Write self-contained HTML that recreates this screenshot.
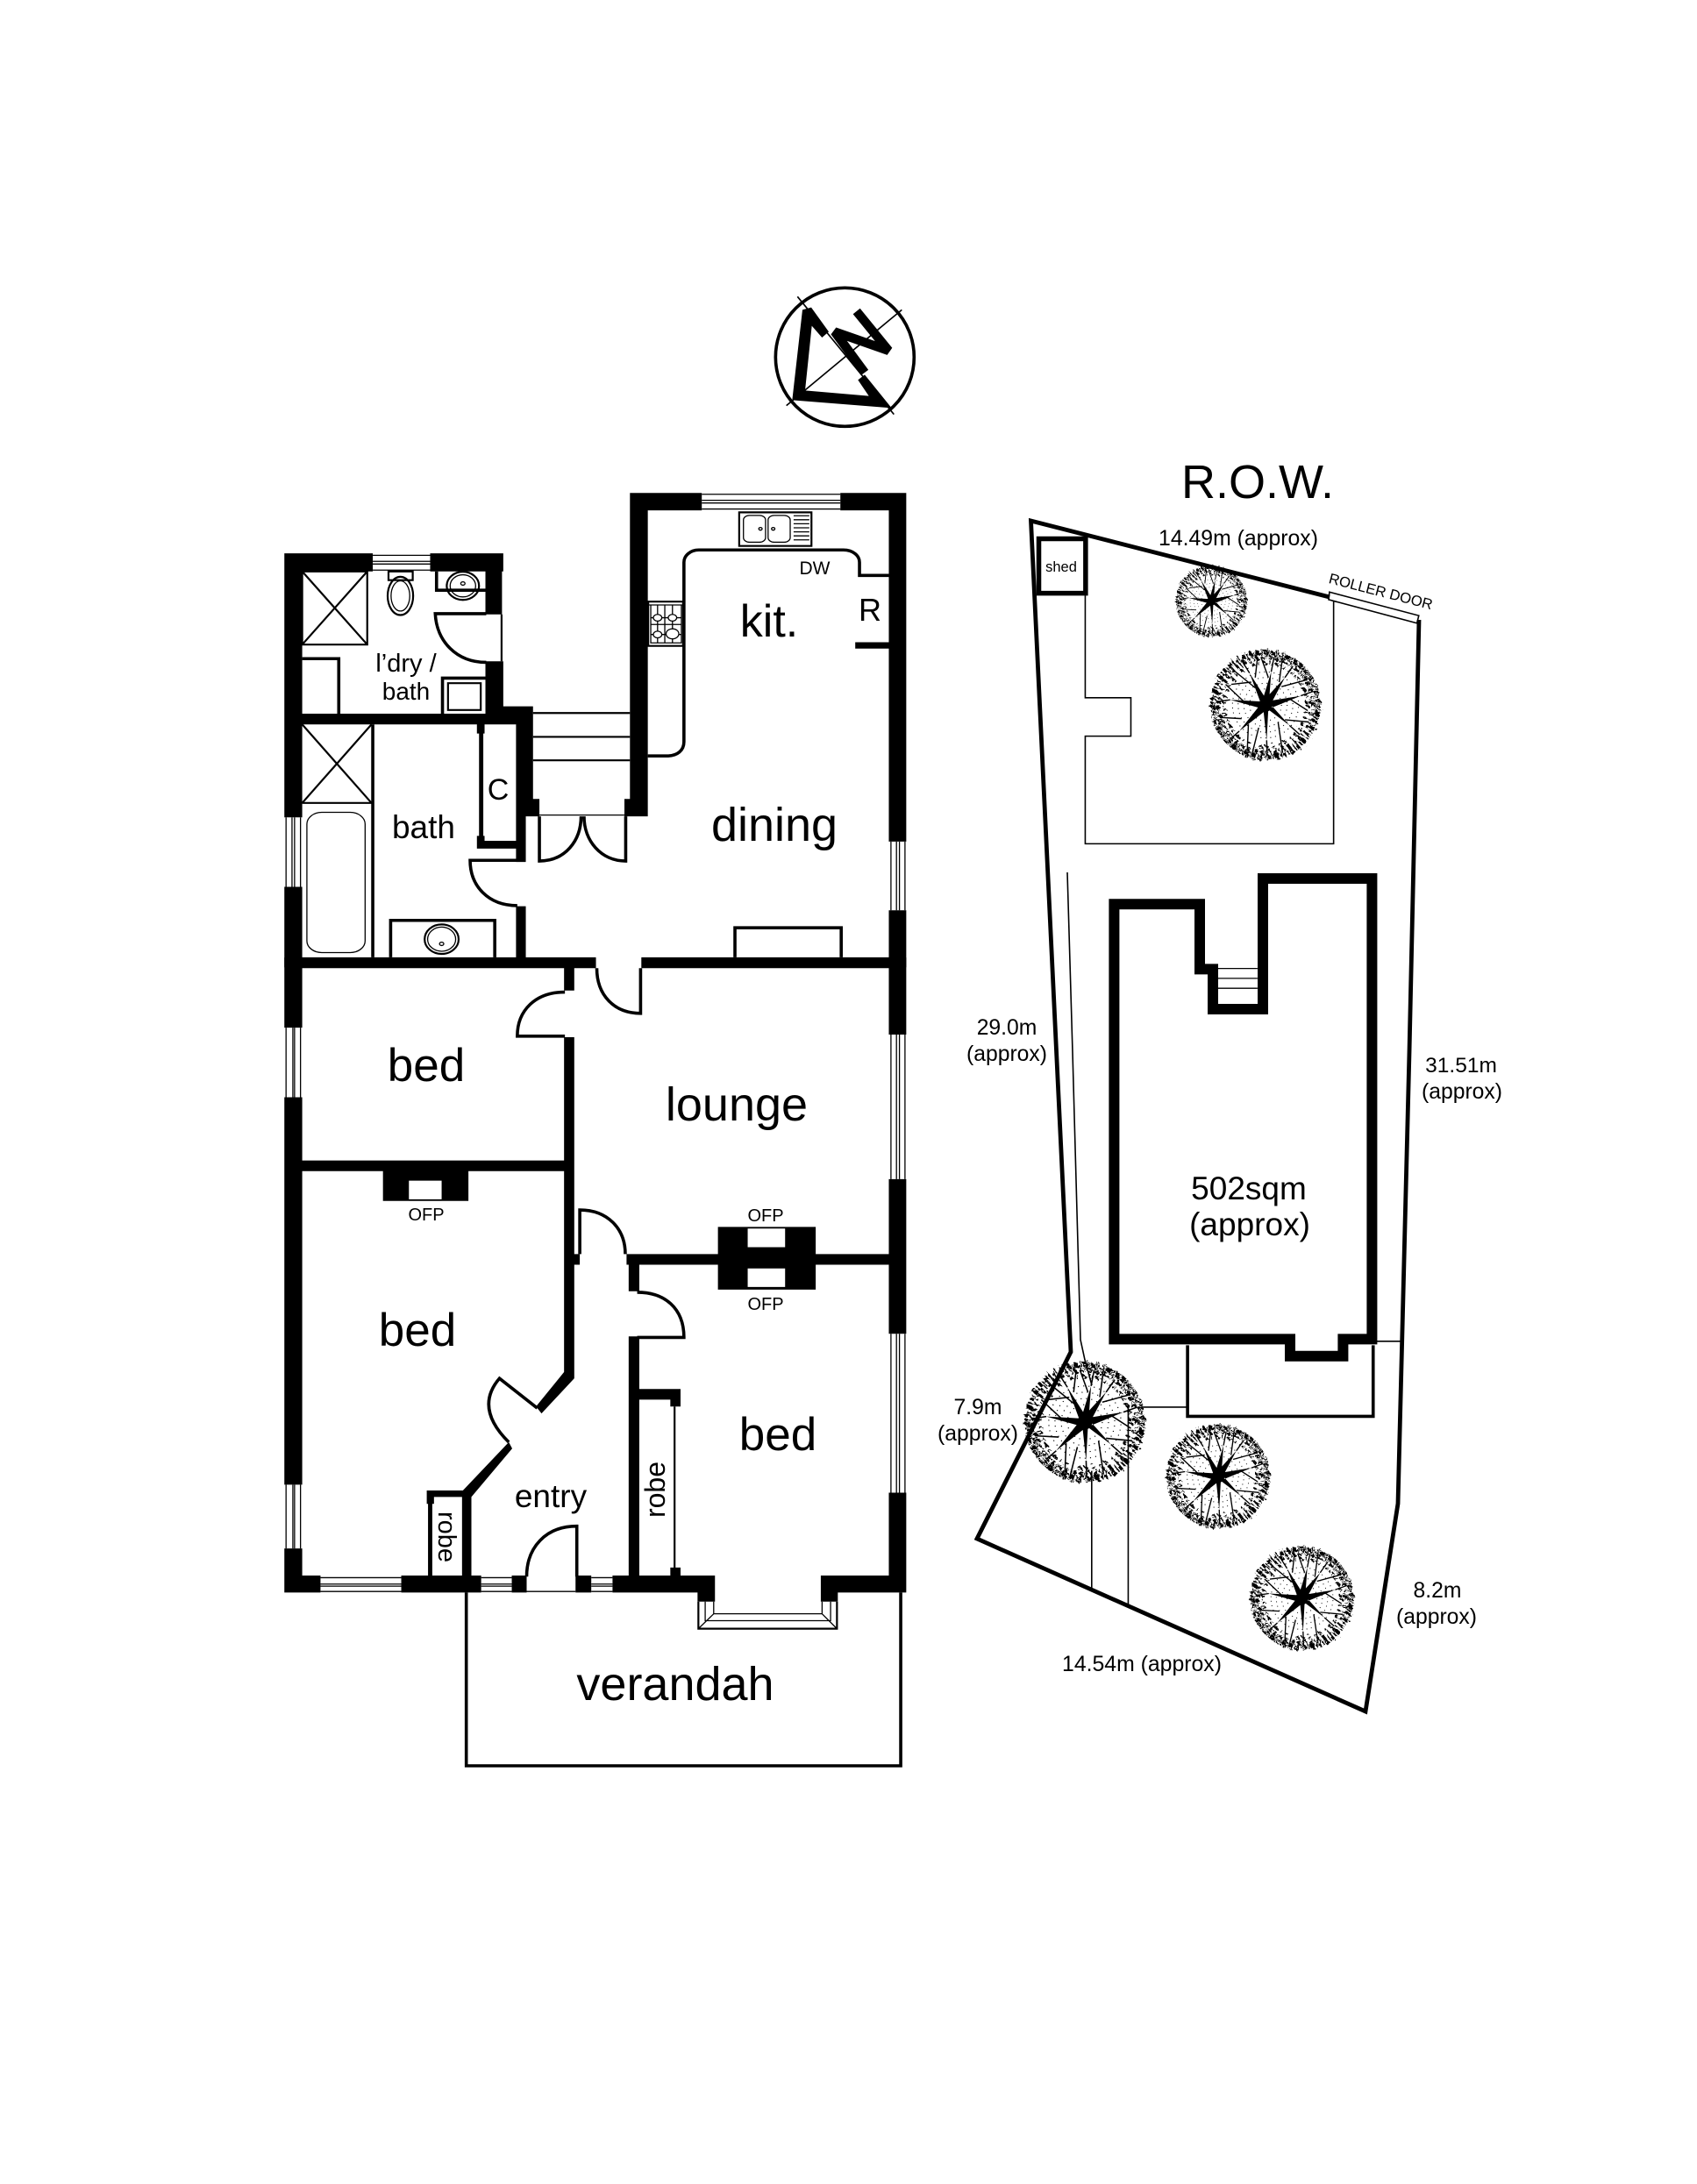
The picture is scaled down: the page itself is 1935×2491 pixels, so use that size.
<!DOCTYPE html>
<html><head><meta charset="utf-8"><style>
html,body{margin:0;padding:0;background:#fff}
svg{display:block}
text{font-family:"Liberation Sans",Arial,sans-serif;fill:#000;text-anchor:middle}
.n *{vector-effect:non-scaling-stroke}
.k{fill:#000;stroke:none}
.w{fill:#fff;stroke:none}
.s{fill:none;stroke:#000;stroke-width:3.6}
.m{fill:none;stroke:#000;stroke-width:2.2}
.t{fill:none;stroke:#000;stroke-width:1.3}
.b{fill:none;stroke:#000;stroke-width:4.8;stroke-linejoin:miter}
</style></head><body>
<svg xmlns="http://www.w3.org/2000/svg" width="1935" height="2491" viewBox="0 0 1935 2491">
<defs>
<filter id="r" x="-20%" y="-20%" width="140%" height="140%"><feTurbulence type="fractalNoise" baseFrequency=".16" numOctaves="2" seed="3" result="n"/><feDisplacementMap in="SourceGraphic" in2="n" scale="15"/></filter>
<g id="tree">
<g filter="url(#r)" fill="none" stroke="#000">
<circle r="92" stroke-width="9" stroke-dasharray="5 2 2 3 7 2 3 3"/>
<circle r="83" stroke-width="8" stroke-dasharray="4 4 2 3 6 5"/>
<circle r="73" stroke-width="6" stroke-dasharray="3 8 5 6"/>
</g>
<g fill="none" stroke="#000" stroke-width="1.6" stroke-dasharray="1.6 7">
<circle r="28"/><circle r="38"/><circle r="48" stroke-dashoffset="3"/><circle r="58" stroke-dashoffset="5"/>
</g>
<path fill="#000" d="M-8-6L-62-9-8 6ZM-8-2L-46 46 0 10ZM-4 6L2 62 5 6ZM2 6L42 36 8-2ZM6-7L62-16 6 7ZM-1-10L34-48 9-1ZM-5-9L10-58 6-4ZM-9-5L-28-56 3-7Z"/>
<circle r="12" fill="#000"/>
<path fill="none" stroke="#000" stroke-width="2.2" d="M-62-9L-82-6M-46 46L-62 60M2 62L3 90M42 36L60 52M62-16L84-24M34-48L48-68M10-58L15-84M-28-56L-42-78M-25-40L-60-36M-18-30L-55-60M-38-6L-70-36M-42 24L-80 22M-30 34L-32 80M-12 40L-24 88M22 30L30 84M34 26L76 30M40-12L74 10M28-32L72-44M24-40L30-84M5-48L-8-84M-18-48L-14-84"/>
</g>
</defs>
<rect width="1935" height="2491" fill="#fff"/>

<!-- compass -->
<g transform="translate(860 320) scale(.3333)">
<circle cx="310" cy="262" r="237" fill="none" stroke="#000" stroke-width="11"/>
<path d="M148 55L478 458M110 428L505 100" stroke="#000" stroke-width="5" fill="none"/>
<path class="k" d="M165 100L195 92 255 175 232 195 197 155 174 376 392 395 355 340 378 322 470 436 130 409Z"/>
<path d="M350 105L460 240 275 175 378 315" fill="none" stroke="#000" stroke-width="31" stroke-linejoin="miter" stroke-miterlimit="3"/>
</g>

<!-- upper floor plan -->
<g class="n" transform="translate(300 540) scale(.4847 .3827)">
<path class="k" d="M50 238H258V292H50ZM393 238H565V292H393ZM50 238H92V1025H50ZM523 238H562V420H523ZM523 560H565V748H523ZM92 716H635V748H92ZM565 694H635V748H565ZM595 694H635V1022H595ZM595 1022H618V1158H595ZM595 1290H618V1445H595ZM635 970H650V1022H635ZM50 1232H92V1472H50ZM92 1442H783V1472H92ZM890 1442H1513V1472H890ZM850 970H905V1022H850ZM863 58H905V970H863ZM863 58H1032V110H863ZM1358 58H1513V110H1358ZM1472 58H1513V1097H1472ZM1472 1302H1513V1472H1472ZM1393 503H1472V522H1393ZM508 748H518V1100H508ZM503 748H521V775H503ZM503 1095H595V1118H503ZM503 1080H521V1118H503Z"/>
<!-- windows -->
<path class="t" d="M258 244H393M258 262H393M258 270H393M258 288H393M1032 62H1358M1032 80H1358M1032 88H1358M1032 106H1358M54 1025V1232M68 1025V1232M74 1025V1232M88 1025V1232M1477 1097V1302M1490 1097V1302M1497 1097V1302M1510 1097V1302"/>
<!-- laundry fixtures -->
<path class="m" d="M92 292H245V510H92ZM92 292L245 510M245 292L92 510M435 625H512V705H435ZM295 292H352V318H295ZM561 420V560"/>
<path class="s" d="M92 552H178V716M422 716V610H523M408 292V348H523"/>
<ellipse class="m" cx="323" cy="365" rx="30" ry="57"/><ellipse class="t" cx="323" cy="365" rx="22" ry="45"/>
<ellipse class="m" cx="470" cy="335" rx="38" ry="42"/><ellipse class="t" cx="470" cy="335" rx="30" ry="33"/><circle class="t" cx="470" cy="328" r="5"/>
<path class="s" d="M525 418H405C408 500 455 563 525 563"/>
<!-- bath fixtures -->
<path class="m" d="M92 748L255 982M255 748L92 982M92 982H258"/>
<path class="s" d="M258 748V1442M300 1442V1332H545V1442"/>
<rect class="t" x="103" y="1010" width="137" height="418" rx="35"/>
<ellipse class="m" cx="420" cy="1388" rx="40" ry="44"/><ellipse class="t" cx="420" cy="1388" rx="33" ry="36"/><circle class="t" cx="420" cy="1402" r="5"/>
<path class="s" d="M598 1153H487C487 1230 530 1288 598 1288"/>
<!-- steps & french door -->
<path class="m" d="M635 714H863M635 785H863M635 855H863"/>
<path class="t" d="M650 1018H850"/>
<path class="s" d="M650 1022V1155C710 1155 748 1095 748 1022M853 1022V1155C795 1155 755 1095 755 1022"/>
<!-- kitchen -->
<path class="s" d="M905 842H950C975 842 990 825 990 800V265C990 245 1005 228 1025 228H1365C1388 228 1403 245 1403 265V304H1472"/>
<path class="m" d="M1120 116H1290V216H1120Z"/>
<rect class="t" x="1130" y="125" width="52" height="80" rx="14"/><rect class="t" x="1188" y="125" width="52" height="80" rx="14"/>
<circle class="t" cx="1170" cy="165" r="4"/><circle class="t" cx="1200" cy="165" r="4"/>
<path class="t" d="M1248 126H1285M1248 138H1285M1248 150H1285M1248 162H1285M1248 174H1285M1248 186H1285M1248 198H1285"/>
<path class="m" d="M906 382H988V514H906Z"/><path class="t" d="M912 392H984V505H912ZM906 392H988M945 392V505M912 450H984M928 392V505M963 392V505M912 430H984M912 480H984"/>
<circle cx="928" cy="430" r="10" fill="#fff" stroke="#000" stroke-width="1.3"/><circle cx="963" cy="430" r="10" fill="#fff" stroke="#000" stroke-width="1.3"/><circle cx="928" cy="480" r="10" fill="#fff" stroke="#000" stroke-width="1.3"/><circle cx="963" cy="478" r="15" fill="#fff" stroke="#000" stroke-width="1.3"/>
<path class="s" d="M1110 1442V1354H1360V1442"/>
</g>

<!-- lower floor plan -->
<g class="n" transform="translate(300 1080) scale(.4847 .6061)">
<path class="k" d="M50 20H92V152H50ZM50 283H92V1012H50ZM50 1132H92V1215H50ZM1472 20H1513V165H1472ZM1472 437H1513V728H1472ZM1472 1027H1513V1215H1472ZM92 20H783V40H92ZM890 20H1472V40H890ZM708 40H732V82H708ZM708 170H732V812L655 878 642 865 708 800ZM92 402H708V422H92ZM282 422H483V478H282ZM855 578H1472V598H855ZM1070 527H1300V645H1070ZM860 598H885V648H860ZM860 733H885V1185H860ZM730 578H745V598H730ZM578 932L586 944 490 1035V1185H468V1035H385V1023H470ZM385 1023H402V1048H385ZM388 1048H398V1185H388ZM50 1183H135V1215H50ZM325 1183H513V1215H325ZM585 1183H620V1215H585ZM735 1183H772V1215H735ZM822 1183H1063V1215H822ZM1312 1183H1513V1215H1312ZM1022 1215H1063V1232H1022ZM1312 1215H1352V1232H1312ZM885 832H982V852H885ZM958 852H982V865H958ZM958 1168H982V1185H958Z"/>
<path class="w" d="M343 440H420V475H343ZM1140 530H1228V565H1140ZM1140 605H1228V640H1140Z"/>
<path class="t" d="M54 152V283M70 152V283M74 152V283M88 152V283M54 1012V1132M70 1012V1132M74 1012V1132M88 1012V1132M1477 165V437M1490 165V437M1497 165V437M1510 165V437M1477 728V1027M1490 728V1027M1497 728V1027M1510 728V1027M135 1187H325M135 1199H325M135 1203H325M135 1213H325M513 1187H585M513 1199H585M513 1203H585M513 1213H585M772 1187H822M772 1199H822M772 1203H822M772 1213H822M620 1213H735"/>
<!-- doors -->
<path class="s" d="M785 40C785 90 825 125 888 125V40M710 168H598C598 120 640 85 710 85M745 578V495C810 495 852 530 852 578M880 650C945 650 990 680 990 735H880M645 868L556 812C515 850 525 890 578 932M738 1185V1090C665 1090 620 1130 620 1185"/>
<path class="m" d="M968 865V1170"/>
<!-- bay window -->
<path class="m" d="M1024 1232V1283H1350V1232"/>
<path class="t" d="M1040 1232V1268H1335V1232M1060 1232V1255H1315V1232M1024 1283L1060 1255M1350 1283L1315 1255"/>
<!-- verandah -->
<path class="s" d="M478 1215V1541H1500V1215"/>
</g>

<!-- site plan upper -->
<g class="n" transform="translate(1080 520) scale(.4337)">
<path class="s" style="stroke-width:5.5" d="M241 218H364V361H241Z"/>
<path class="t" d="M363 367V636H483V737H363V1020H1016V378" style="stroke-width:1.6"/>
<path fill="#fff" stroke="#000" stroke-width="1.6" d="M1005 358L1240 420 1235 440 1003 378Z"/>
<path class="t" d="M712 1348H816M712 1374H816M712 1400H816"/>
</g>
<path class="b" d="M1516 681L1175.500 594 1221 1542 1114 1755 1557 1952 1594 1715 1607 1200 1618 707"/>
<path class="t" style="stroke-width:1.6" d="M1217 995L1223 1200 1232 1528 1237 1551 1245 1580"/>
<path fill="none" stroke="#000" stroke-width="12" stroke-miterlimit="4" d="M1270.400 1031.300H1368V1105.400H1383V1151H1440V1002H1564.400V1527.400H1531.400V1546.800H1471V1527.400H1270.400Z"/>

<!-- deck etc -->
<g class="n" transform="translate(1080 1200) scale(.4337 .4975)">
<path class="s" d="M632 672V835H1120V672"/>
<path class="t" style="stroke-width:1.6" d="M632 814H510M1120 663H1195M380 960V1232M476 810V1268"/>
</g>

<!-- trees -->
<use href="#tree" transform="translate(1381.400 685.600) scale(.42)"/>
<use href="#tree" transform="translate(1443 804) scale(.65)"/>
<use href="#tree" transform="translate(1237 1622) scale(.71)"/>
<use href="#tree" transform="translate(1389 1684) scale(.61)"/>
<use href="#tree" transform="translate(1484.600 1823) scale(.61)"/>

<!-- labels -->
<text x="877" y="726" font-size="52">kit.</text>
<text x="992" y="708" font-size="36">R</text>
<text x="929" y="655" font-size="21">DW</text>
<text x="463" y="766" font-size="29">l’dry /</text>
<text x="463" y="798" font-size="28">bath</text>
<text x="568" y="912" font-size="34">C</text>
<text x="483" y="956" font-size="37">bath</text>
<text x="883" y="959" font-size="54">dining</text>
<text x="486" y="1233" font-size="53">bed</text>
<text x="840" y="1278" font-size="54">lounge</text>
<text x="476" y="1535" font-size="53">bed</text>
<text x="887" y="1654" font-size="53">bed</text>
<text x="628" y="1719" font-size="37">entry</text>
<text x="770" y="1939" font-size="54">verandah</text>
<text x="486" y="1392" font-size="20">OFP</text>
<text x="873" y="1393" font-size="20">OFP</text>
<text x="873" y="1494" font-size="20">OFP</text>
<text transform="translate(758 1699) rotate(-90)" font-size="32">robe</text>
<text transform="translate(500 1753) rotate(90)" font-size="29">robe</text>
<text x="1434" y="568" font-size="54">R.O.W.</text>
<text x="1412" y="622" font-size="24.800">14.49m (approx)</text>
<text x="1210" y="652" font-size="16.500">shed</text>
<text transform="translate(1573 680) rotate(14.500)" font-size="16.700">ROLLER DOOR</text>
<text x="1424" y="1368" font-size="37">502sqm</text>
<text x="1425" y="1409" font-size="37">(approx)</text>
<text x="1666" y="1223" font-size="24.500">31.51m</text>
<text x="1667" y="1253" font-size="24.700">(approx)</text>
<text x="1148" y="1180" font-size="24.700">29.0m</text>
<text x="1148" y="1210" font-size="24.700">(approx)</text>
<text x="1115" y="1613" font-size="24.700">7.9m</text>
<text x="1115" y="1643" font-size="24.700">(approx)</text>
<text x="1639" y="1822" font-size="24.700">8.2m</text>
<text x="1638" y="1852" font-size="24.700">(approx)</text>
<text x="1302" y="1906" font-size="24.800">14.54m (approx)</text>
</svg>
</body></html>
